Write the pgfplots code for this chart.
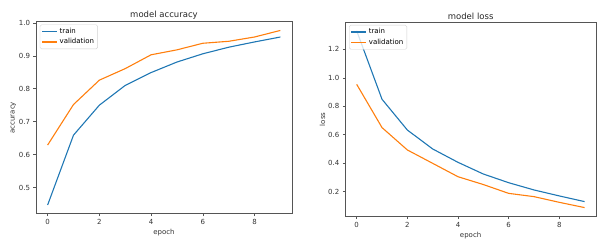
\documentclass[border=0pt]{standalone}
\usepackage{fontspec}
\setmainfont{DejaVu Sans}
\usepackage{pgfplots}
\pgfplotsset{compat=1.18}
\definecolor{tabblue}{HTML}{1F77B4}
\definecolor{taborange}{HTML}{FF7F0E}
\definecolor{axgray}{HTML}{555555}
\pgfplotsset{
  mpl/.style={
    scale only axis,
    axis line style={axgray, line width=0.6pt},
    tick style={axgray, line width=0.5pt},
    tick align=outside,
    major tick length=2.5pt,
    xtick pos=bottom, ytick pos=left,
    ticklabel style={font=\fontsize{7}{8}\selectfont, text=black!80},
    label style={font=\fontsize{7}{8}\selectfont, text=black!80},
    xlabel style={yshift=3pt},
    ylabel style={yshift=-4pt},
    every axis title shift=0pt,
    title style={font=\fontsize{8.5}{10}\selectfont, text=black!85, at={(0.5,1)}, anchor=south, yshift=-1pt},
    /pgf/number format/assume math mode=true,
    xmin=-0.45, xmax=9.45,
    xtick={0,2,4,6,8},
    legend style={at={(0.015,0.985)}, anchor=north west, draw=gray!35, rounded corners=1.5pt,
      font=\fontsize{7}{8}\selectfont, fill=white, fill opacity=0.8, text opacity=1,
      inner sep=1.5pt, row sep=-0.5pt},
    legend cell align=left,
    legend image code/.code={\draw[#1] (0pt,0pt) -- (15pt,0pt);},
    every axis plot/.append style={line width=1.1pt},
  }
}
\begin{document}
\begin{tikzpicture}[x=1pt,y=1pt]
\path[use as bounding box] (0,0) rectangle (610,249);
\begin{axis}[mpl,
  at={(36pt,35.3pt)}, anchor=south west,
  width=256pt, height=192pt,
  ymin=0.4205, ymax=1.0035,
  ytick={0.5,0.6,0.7,0.8,0.9,1.0},
  yticklabel style={/pgf/number format/.cd, fixed, fixed zerofill, precision=1},
  title={model accuracy},
  xlabel={epoch}, ylabel={accuracy},
]
\addplot[tabblue] coordinates {(0,0.447) (1,0.659) (2,0.750) (3,0.810) (4,0.849) (5,0.881) (6,0.906) (7,0.926) (8,0.942) (9,0.957)};
\addlegendentry{train}
\addplot[taborange] coordinates {(0,0.629) (1,0.752) (2,0.826) (3,0.861) (4,0.903) (5,0.918) (6,0.938) (7,0.944) (8,0.957) (9,0.977)};
\addlegendentry{validation}
\end{axis}
\begin{axis}[mpl,
  at={(345.3pt,32.3pt)}, anchor=south west,
  width=250.7pt, height=194.7pt,
  ymin=0.024, ymax=1.392,
  ytick={0.2,0.4,0.6,0.8,1.0,1.2},
  yticklabel style={/pgf/number format/.cd, fixed, fixed zerofill, precision=1},
  title={model loss},
  xlabel={epoch}, ylabel={loss},
]
\addplot[tabblue] coordinates {(0,1.330) (1,0.849) (2,0.633) (3,0.500) (4,0.406) (5,0.324) (6,0.263) (7,0.212) (8,0.170) (9,0.130)};
\addlegendentry{train}
\addplot[taborange] coordinates {(0,0.954) (1,0.650) (2,0.493) (3,0.399) (4,0.305) (5,0.250) (6,0.188) (7,0.165) (8,0.125) (9,0.088)};
\addlegendentry{validation}
\end{axis}
\end{tikzpicture}
\end{document}
